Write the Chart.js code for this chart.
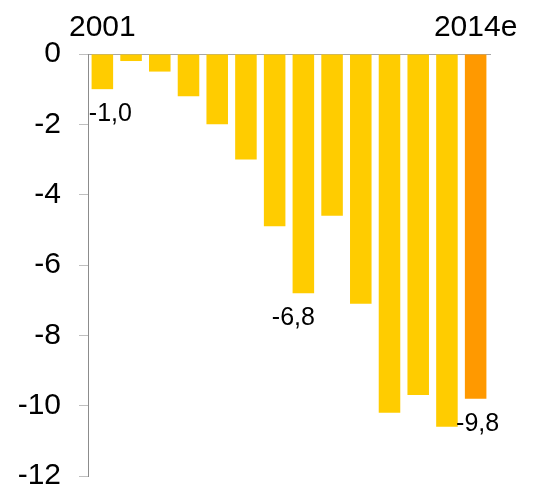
<!DOCTYPE html>
<html>
<head>
<meta charset="utf-8">
<script src="https://cdn.jsdelivr.net/npm/chart.js@4"></script>
<style>
  html, body { margin: 0; padding: 0; background: #fff; }
  #wrap { width: 536px; height: 492px; }
</style>
</head>
<body>
<div id="wrap"><canvas id="chart" width="536" height="492"></canvas></div>
<script>
// years shown along the top, only first and last get a label
const years = ['2001', '2002', '2003', '2004', '2005', '2006', '2007',
               '2008', '2009', '2010', '2011', '2012', '2013', '2014e'];
const values = [-1.0, -0.2, -0.5, -1.2, -2.0, -3.0, -4.9,
                -6.8, -4.6, -7.1, -10.2, -9.7, -10.6, -9.8];
const yTicks = [0, -2, -4, -6, -8, -10, -12];
const labelled = [0, 7, 13]; // bars that carry a value label

const barColors = values.map((v, i) => i === values.length - 1 ? '#FF9900' : '#FFCC00');

// draws "-1,0" style labels under some of the bars
const valueLabels = {
    id: 'valueLabels',
    afterDatasetsDraw(chart) {
        const ctx = chart.ctx;
        const meta = chart.getDatasetMeta(0);
        const nudge = { 0: 8, 7: -10, 13: 2 };
        ctx.save();
        ctx.font = '25px "Liberation Sans", Arial, sans-serif';
        ctx.fillStyle = '#000';
        ctx.textAlign = 'center';
        ctx.textBaseline = 'middle';
        labelled.forEach(i => {
            const bar = meta.data[i];
            const txt = values[i].toFixed(1).replace('.', ',');
            ctx.fillText(txt, bar.x + (nudge[i] || 0), bar.y + 25);
        });
        ctx.restore();
    }
};

new Chart(document.getElementById('chart'), {
    type: 'bar',
    data: {
        labels: years,
        datasets: [{
            data: values,
            backgroundColor: barColors,
            barPercentage: 0.75,
            categoryPercentage: 1.0
        }]
    },
    options: {
        responsive: false,
        animation: false,
        layout: { padding: { top: 0, right: 46, bottom: 16, left: 0 } },
        plugins: {
            legend: { display: false },
            tooltip: { enabled: false }
        },
        scales: {
            x: {
                position: 'top',
                grid: { display: false },
                border: { display: true, color: '#a6a6a6', width: 1 },
                ticks: {
                    autoSkip: false,
                    maxRotation: 0,
                    padding: 3,
                    color: '#000',
                    font: { family: '"Liberation Sans", Arial, sans-serif', size: 30, lineHeight: 1 },
                    callback: function (val, i) {
                        return (i === 0 || i === years.length - 1) ? years[i] : '';
                    }
                },
                afterFit(scale) { scale.height = 54; }
            },
            y: {
                min: -12,
                max: 0,
                afterBuildTicks(scale) {
                    scale.ticks = yTicks.map(v => ({ value: v }));
                },
                grid: {
                    drawOnChartArea: false,
                    tickLength: 9,
                    color: '#bfbfbf'
                },
                border: { display: true, color: '#8c8c8c', width: 1 },
                ticks: {
                    padding: 18,
                    color: '#000',
                    font: { family: '"Liberation Sans", Arial, sans-serif', size: 30, lineHeight: 1 }
                },
                afterFit(scale) {
                    scale.width = 88;
                    scale.paddingTop = 0;
                    scale.paddingBottom = 0;
                }
            }
        }
    },
    plugins: [valueLabels]
});
</script>
</body>
</html>
